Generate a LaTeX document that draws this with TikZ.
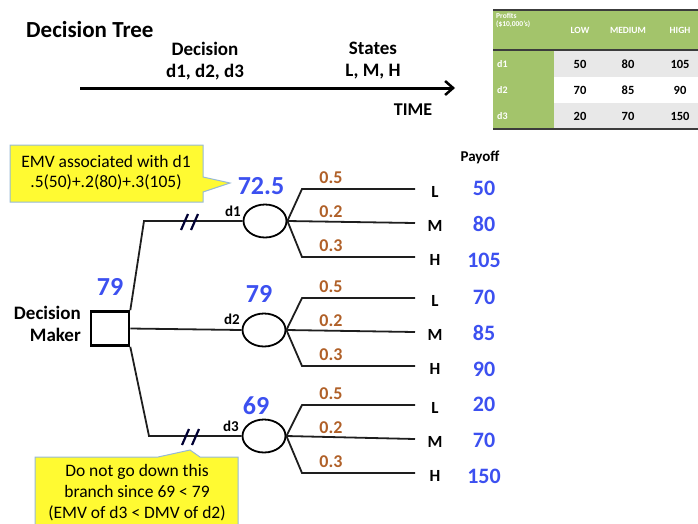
\documentclass[tikz,border=0pt]{standalone}
\usepackage{fontspec}
\setmainfont{Carlito}
\usetikzlibrary{arrows.meta,shapes.geometric}
\definecolor{emvblue}{RGB}{60,80,240}
\definecolor{probbrown}{RGB}{176,96,40}
\definecolor{callyellow}{RGB}{255,250,50}
\definecolor{callborder}{RGB}{150,185,215}
\definecolor{tabgreen}{RGB}{163,196,107}
\definecolor{tabgray}{RGB}{232,232,232}
\definecolor{tabline}{RGB}{60,60,60}
\definecolor{treeline}{RGB}{30,30,30}
\begin{document}
\begin{tikzpicture}[x=1pt,y=-1pt,
  txt/.style={inner sep=0pt, font=\bfseries\fontsize{#1}{#1}\selectfont},
  multi/.style 2 args={inner sep=0pt, align=center, font=\bfseries\fontsize{#1}{#2}\selectfont},
  branch/.style={draw=treeline, line width=1.8pt},
  chance/.style={draw=black, line width=1.8pt, ellipse, minimum width=43pt, minimum height=33pt, inner sep=0pt},
  decbox/.style={draw=black, line width=2.6pt, minimum width=38pt, minimum height=34pt, inner sep=0pt},
  emv/.style={txt=26, text=emvblue},
  payoff/.style={txt=22, text=emvblue},
  prob/.style={txt=18, text=probbrown},
  state/.style={txt=17},
  dlabel/.style={txt=15},
  slashmark/.style={draw=black!80!blue, line width=2.2pt},
  callout/.style={draw=callborder, line width=1pt, fill=callyellow},
  calltext/.style={inner sep=0pt, align=center, font=\fontsize{17.5}{20}\selectfont},
  tabhead/.style={inner sep=0pt, text=white, font=\bfseries\fontsize{9.5}{9.5}\selectfont},
  tabval/.style={inner sep=0pt, font=\bfseries\fontsize{12.5}{12.5}\selectfont}
]
\useasboundingbox (0,0) rectangle (698,523);

% ---------- header ----------
\node[txt=23, anchor=west] (title) at (26,30) {Decision Tree};
\node[multi={19}{22}] (hdec) at (205,61) {Decision\\d1, d2, d3};
\node[multi={19}{22}] (hstate) at (373,61) {States\\L, M, H};
\coordinate (t0) at (80,88);
\coordinate (t1) at (455,88);
\draw[line width=3pt, -{Straight Barb[length=8pt,width=14pt,line width=2.5pt]}] (t0) -- (t1);
\node[txt=18] (time) at (413,110) {TIME};

% ---------- table ----------
\fill[tabgreen] (493,10) rectangle (698,50);
\fill[tabgreen] (493,50) rectangle (554,129);
\fill[tabgray] (554,50) rectangle (698,77);
\fill[white] (554,77) rectangle (698,103);
\fill[tabgray] (554,103) rectangle (698,129);
\draw[tabline, line width=2pt] (493,10) -- (698,10);
\draw[tabline, line width=1.2pt] (493,50) -- (698,50);
\draw[tabline, line width=1.5pt] (493,129) -- (698,129);
\node[inner sep=0pt, anchor=north west, align=left, text=white, font=\bfseries\fontsize{7.5}{8.5}\selectfont] (tprof) at (496,13) {Profits\\(\$10,000's)};
\node[tabhead] (tlow) at (580,30) {LOW};
\node[tabhead] (tmed) at (628,30) {MEDIUM};
\node[tabhead] (thigh) at (680,30) {HIGH};
\foreach \r/\y/\a/\b/\c in {1/64/50/80/105, 2/90/70/85/90, 3/116/20/70/150} {
  \node[tabhead, anchor=west, font=\bfseries\fontsize{10}{10}\selectfont] (tr\r) at (497,\y) {d\r};
  \node[tabval] (ta\r) at (580,\y) {\a};
  \node[tabval] (tb\r) at (628,\y) {\b};
  \node[tabval] (tc\r) at (680,\y) {\c};
}

% ---------- tree ----------
\node[decbox] (dm) at (110,328.5) {};
\node[multi={19}{22}, align=right, anchor=east] (dmtext) at (81,324) {Decision\\Maker};
\node[emv] (emv0) at (110,287) {79};

\node[chance] (c1) at (265,221) {};
\node[chance] (c2) at (264,330) {};
\node[chance] (c3) at (264,436) {};

\coordinate (k1) at (144,221);
\coordinate (k3) at (149,436);
\draw[branch] (dm.north east) -- (k1) -- (c1.west);
\draw[branch] (dm.east) -- (c2.west);
\draw[branch] (dm.south east) -- (k3) -- (c3.west);

\node[dlabel] (d1) at (233,211) {d1};
\node[dlabel] (d2) at (232,319) {d2};
\node[dlabel] (d3) at (231,426) {d3};

\node[emv] (emv1) at (261,186) {72.5};
\node[emv] (emv2) at (259,294) {79};
\node[emv] (emv3) at (256,406) {69};

% slashes
\coordinate (s1a) at (181,230); \coordinate (s1b) at (188,214);
\coordinate (s1c) at (191,230); \coordinate (s1d) at (198,214);
\draw[slashmark] (s1a) -- (s1b); \draw[slashmark] (s1c) -- (s1d);
\coordinate (s3a) at (182,445); \coordinate (s3b) at (189,429);
\coordinate (s3c) at (192,445); \coordinate (s3d) at (199,429);
\draw[slashmark] (s3a) -- (s3b); \draw[slashmark] (s3c) -- (s3d);

% branches
\foreach \n/\y/\pl/\pm/\ph in {1/221/50/80/105, 2/330/70/85/90, 3/437/20/70/150} {
  \coordinate (bl\n) at (302,\y-32);
  \coordinate (el\n) at (415,\y-32);
  \coordinate (em\n) at (415,\y+2);
  \coordinate (bh\n) at (302,\y+36);
  \coordinate (eh\n) at (415,\y+36);
  \draw[branch] (c\n.east) -- (bl\n) -- (el\n);
  \draw[branch] (c\n.east) -- (em\n);
  \draw[branch] (c\n.east) -- (bh\n) -- (eh\n);
  \node[prob] (pl\n) at (331,\y-43) {0.5};
  \node[prob] (pm\n) at (331,\y-9) {0.2};
  \node[prob] (ph\n) at (331,\y+25) {0.3};
  \node[state] (sl\n) at (435,\y-29) {L};
  \node[state] (sm\n) at (435,\y+5) {M};
  \node[state] (sh\n) at (435,\y+39) {H};
  \node[payoff] (vl\n) at (484,\y-33) {\pl};
  \node[payoff] (vm\n) at (484,\y+3) {\pm};
  \node[payoff] (vh\n) at (484,\y+39) {\ph};
}
\node[txt=15] (payoff) at (480,157) {Payoff};

% ---------- callouts ----------
\draw[callout] (10,145) -- (203,145) -- (203,177) -- (230,183) -- (203,192) -- (203,202) -- (10,202) -- cycle;
\node[calltext] (ctext1) at (106,173) {EMV associated with d1\\.5(50)+.2(80)+.3(105)};
\draw[callout] (35,530) -- (35,457) -- (158,457) -- (190,450) -- (200,457) -- (238,457) -- (238,530);
\node[calltext, font=\fontsize{17.5}{21}\selectfont] (ctext2) at (137,493) {Do not go down this\\branch since 69 < 79\\(EMV of d3 < DMV of d2)};
\end{tikzpicture}
\end{document}
